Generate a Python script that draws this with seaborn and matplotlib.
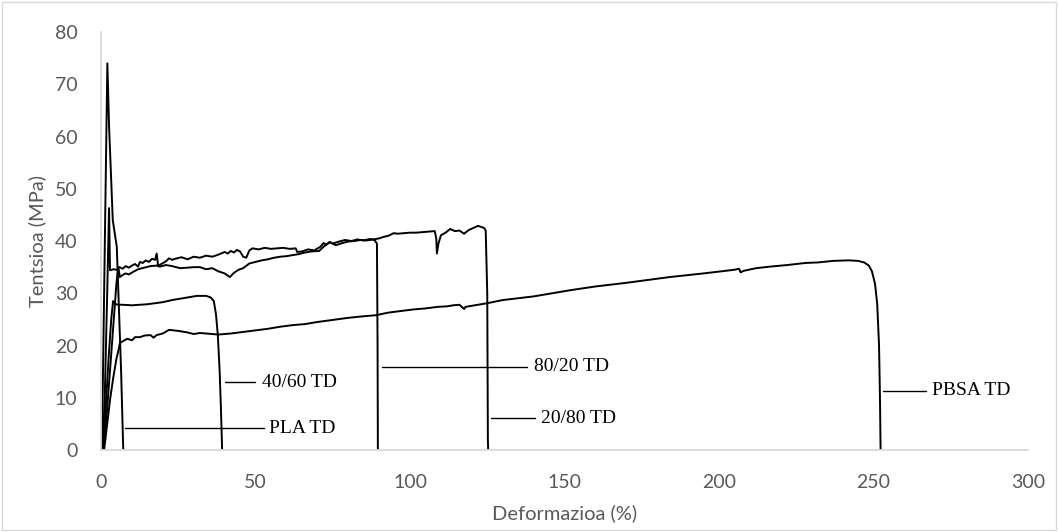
import matplotlib
matplotlib.use("Agg")
import matplotlib.pyplot as plt
import seaborn as sns
import pandas as pd

# ---------------- data ----------------
pla_x = [0, 0.3, 1.0, 2.05, 2.6, 3.8, 5.1, 6.5, 7.1, 7.2]
pla_y = [0, 0.5, 30, 74, 62, 44, 38.9, 15, 2, 0]

b8020_x = [0.5, 1.2, 2.0, 2.6, 2.9, 4, 5, 6, 7, 8, 9, 10, 11, 12, 12.6, 13.5, 14.5,
           15.5, 16.5, 17.5, 18, 18.5, 19.5, 21, 22, 23, 24, 26, 28, 30, 32, 34, 36,
           38, 40, 41, 42, 43, 44, 45, 46, 47, 48, 49, 51, 53, 55, 57, 59, 61, 63,
           63.5, 65, 67, 69, 71, 72, 73, 74, 75, 77, 79, 81, 83, 85, 87, 88.5, 89.3,
           89.5, 89.6]
b8020_y = [0, 10, 30, 46.3, 34.4, 34.6, 34.5, 35.0, 34.7, 35.2, 34.9, 35.3, 35.6, 35.1,
           36.0, 35.8, 36.3, 36.0, 36.6, 36.4, 37.6, 35.2, 35.6, 36.1, 36.7, 36.4, 36.6,
           36.9, 36.5, 37.0, 36.8, 37.2, 37.0, 37.4, 37.9, 37.6, 38.1, 37.8, 38.3, 38.0,
           37.0, 36.8, 38.2, 38.6, 38.4, 38.7, 38.5, 38.6, 38.7, 38.5, 38.6, 37.9, 38.0,
           38.4, 38.2, 38.9, 39.6, 39.3, 39.8, 39.5, 39.9, 40.2, 40.0, 40.3, 40.1, 40.4,
           40.2, 39.5, 20, 0]

b2080_x = [0.8, 2, 3.5, 5, 5.6, 6.1, 7, 8, 9, 10.4, 12, 14, 16, 18, 19, 21, 23, 25.6,
           28, 30, 32, 34, 36, 38, 40, 41.7, 43, 44.5, 46, 48, 50, 52, 54, 56, 58, 60,
           62, 64, 66, 68, 70.6, 72, 74, 76, 78, 80, 82, 84, 86, 88, 90, 91.5, 93,
           94.7, 96, 98, 100, 102, 104, 106, 108, 108.5, 108.7, 109.2, 110, 111.5, 113,
           114.5, 116, 117.5, 119, 120.5, 122, 123, 124, 124.5, 125, 125.2, 125.3]
b2080_y = [0, 8, 20, 32, 35, 33.1, 33.5, 33.8, 33.6, 34.1, 34.6, 34.9, 35.2, 35.3, 35.1,
           35.4, 35.2, 34.8, 34.9, 35.0, 35.0, 34.6, 34.8, 34.2, 33.8, 33.1, 33.9, 34.5,
           34.8, 35.7, 36.0, 36.3, 36.5, 36.8, 37.0, 37.1, 37.3, 37.5, 37.8, 38.0, 38.1,
           38.9, 39.8, 39.2, 39.6, 39.9, 40.0, 40.2, 40.1, 40.3, 40.5, 40.8, 41.0, 41.5,
           41.4, 41.5, 41.6, 41.6, 41.7, 41.8, 41.9, 40.5, 37.6, 39.5, 41.1, 41.6, 42.3,
           41.9, 42.0, 41.4, 42.1, 42.5, 42.9, 42.7, 42.5, 42.0, 30, 2, 0]

b4060_x = [0.7, 1.5, 2.5, 3.3, 3.9, 4.5, 5.5, 7, 10, 15, 20, 23, 27, 31, 34, 35.5, 36.5,
           37.2, 37.8, 38.4, 38.8, 39.1, 39.2]
b4060_y = [0, 8, 18, 25, 28.5, 28.0, 27.8, 27.8, 27.7, 27.9, 28.3, 28.7, 29.1, 29.5, 29.5,
           29.2, 28.5, 26, 22, 15, 8, 2, 0]

pbsa_x = [1, 2, 3, 4, 5, 5.8, 6.1, 7, 8.5, 10, 11, 12.6, 14, 16, 17, 18, 20, 22, 25, 28,
          30, 32, 34, 38, 42, 46, 50, 54, 58, 62, 66, 70, 75, 80, 85, 89, 93, 97, 101,
          105, 109, 112, 114, 116, 117.5, 118, 120, 125, 130, 140, 152, 160, 170, 184,
          195, 205, 206.5, 207, 208, 212, 216.5, 222, 228, 232, 237, 242, 245, 247,
          248.5, 249.5, 250.5, 251.2, 251.8, 252.1, 252.3]
pbsa_y = [0, 5, 10, 14, 17.5, 19.5, 20.5, 20.8, 21.3, 21.0, 21.6, 21.6, 21.9, 22.0, 21.5,
          22.0, 22.3, 23.0, 22.8, 22.5, 22.2, 22.4, 22.3, 22.1, 22.3, 22.6, 22.9, 23.2,
          23.6, 23.9, 24.1, 24.5, 24.9, 25.3, 25.6, 25.8, 26.3, 26.6, 26.9, 27.1, 27.4,
          27.5, 27.7, 27.8, 27.0, 27.4, 27.6, 28.1, 28.7, 29.4, 30.6, 31.3, 32.0, 33.1,
          33.8, 34.5, 34.7, 34.0, 34.3, 34.8, 35.1, 35.4, 35.8, 35.9, 36.2, 36.3, 36.2,
          35.9, 35.3, 34.2, 31.8, 28, 20, 10, 0]

series_names = ["PLA TD", "80/20 TD", "20/80 TD", "40/60 TD", "PBSA TD"]
x_ticks = [0, 50, 100, 150, 200, 250, 300]
y_ticks = [0, 10, 20, 30, 40, 50, 60, 70, 80]
x_title = "Deformazioa (%)"
y_title = "Tentsioa (MPa)"

# ---------------- layout (label leaders, data coords) ----------------
label_layout = {
    "PLA TD":   dict(x0=7.8,   x1=52.8,  y=4.2,  tx=54.4),
    "40/60 TD": dict(x0=40.1,  x1=49.8,  y=13.0, tx=52.0),
    "80/20 TD": dict(x0=91.0,  x1=138.0, y=15.9, tx=140.0),
    "20/80 TD": dict(x0=126.2, x1=140.5, y=6.1,  tx=142.4),
    "PBSA TD":  dict(x0=253.0, x1=267.0, y=11.3, tx=269.0),
}

frames = []
for name, xs, ys in zip(series_names,
                        [pla_x, b8020_x, b2080_x, b4060_x, pbsa_x],
                        [pla_y, b8020_y, b2080_y, b4060_y, pbsa_y]):
    frames.append(pd.DataFrame({"strain": xs, "stress": ys, "series": name}))
df = pd.concat(frames, ignore_index=True)

sns.set_theme(style="white")
plt.rcParams["font.family"] = ["Lato", "DejaVu Sans"]

fig = plt.figure(figsize=(10.59, 5.32), dpi=100)
ax = fig.add_axes([0.0954, 0.1541, 0.8753, 0.7857])

sns.lineplot(data=df, x="strain", y="stress", units="series", estimator=None,
             sort=False, color="black", linewidth=1.4, ax=ax, legend=False)

for name in series_names:
    L = label_layout[name]
    ax.plot([L["x0"], L["x1"]], [L["y"], L["y"]], color="black", linewidth=1.0)
    ax.text(L["tx"], L["y"], name, fontsize=14, family="Liberation Serif",
            color="black", va="center", ha="left")

ax.set_xlim(0, 300)
ax.set_ylim(0, 80)
ax.set_xticks(x_ticks)
ax.set_yticks(y_ticks)
ax.tick_params(axis="both", length=0, labelsize=14, colors="#595959")
ax.tick_params(axis="x", pad=17)
ax.tick_params(axis="y", pad=17)
ax.set_xlabel(x_title, fontsize=14.5, color="#595959", labelpad=10)
ax.set_ylabel(y_title, fontsize=14.5, color="#595959", labelpad=6)
for s in ["top", "right"]:
    ax.spines[s].set_visible(False)
for s in ["left", "bottom"]:
    ax.spines[s].set_color("#d9d9d9")
    ax.spines[s].set_linewidth(1.3)

fig.patches.append(plt.Rectangle((0.002, 0.003), 0.995, 0.993, transform=fig.transFigure,
                                 fill=False, edgecolor="#d9d9d9", linewidth=1.0))

fig.savefig("out.png", dpi=100)
